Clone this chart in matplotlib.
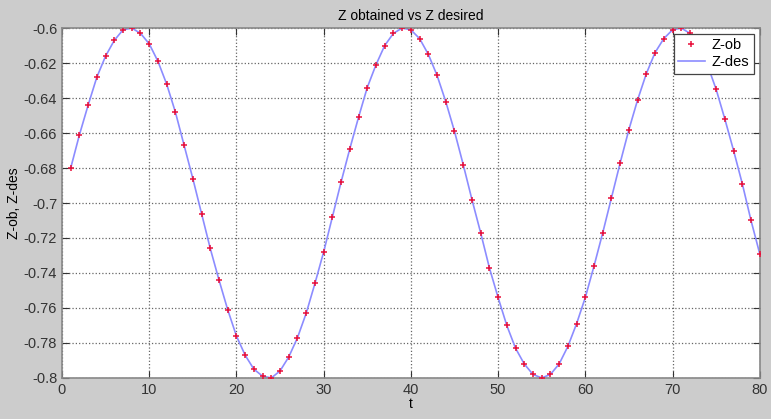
import numpy as np
import matplotlib
matplotlib.use('Agg')
import matplotlib.pyplot as plt
from matplotlib.ticker import FormatStrFormatter

t = list(range(1, 81))

# values, one per integer t
z_ob = [-0.680, -0.661, -0.644, -0.628, -0.616, -0.607, -0.601, -0.600, -0.603, -0.609,
        -0.619, -0.632, -0.648, -0.667, -0.686, -0.706, -0.726, -0.744, -0.761, -0.776,
        -0.787, -0.795, -0.799, -0.800, -0.796, -0.788, -0.777, -0.763, -0.746, -0.728,
        -0.708, -0.688, -0.669, -0.651, -0.634, -0.621, -0.610, -0.603, -0.600, -0.601,
        -0.606, -0.615, -0.627, -0.642, -0.659, -0.678, -0.698, -0.717, -0.737, -0.754,
        -0.770, -0.783, -0.792, -0.798, -0.800, -0.798, -0.792, -0.782, -0.769, -0.754,
        -0.736, -0.717, -0.697, -0.677, -0.658, -0.641, -0.626, -0.614, -0.606, -0.601,
        -0.600, -0.603, -0.610, -0.621, -0.635, -0.652, -0.670, -0.689, -0.710, -0.729]
z_des = list(z_ob)

xticks = [0, 10, 20, 30, 40, 50, 60, 70, 80]
yticks = [-0.8, -0.78, -0.76, -0.74, -0.72, -0.7, -0.68, -0.66, -0.64, -0.62, -0.6]

plt.rcParams['font.family'] = ['Liberation Sans', 'DejaVu Sans']

fig = plt.figure(figsize=(7.71, 4.19), dpi=100, facecolor='#cccccc')
ax = fig.add_axes([0.0804, 0.098, 0.905, 0.835])

ax.plot(t, z_ob, linestyle='none', marker='+', color='#e8103a', markersize=5,
        markeredgewidth=1.1, label='Z-ob', zorder=3)
ax.plot(t, z_des, color='#8c8cff', linewidth=1.2, label='Z-des', zorder=2)

ax.set_xlim(0, 80)
ax.set_ylim(-0.8, -0.6)
ax.set_xticks(xticks)
ax.set_yticks(yticks)
ax.yaxis.set_major_formatter(FormatStrFormatter('%g'))
ax.grid(True, linestyle=':', color='#666666', linewidth=0.9)
ax.tick_params(direction='in', top=True, right=True, labelsize=10.5,
               colors='#333333', length=5)
for s in ax.spines.values():
    s.set_color('#888888')
    s.set_linewidth(1.2)

ax.set_title('Z obtained vs Z desired', fontsize=10, pad=6)
ax.set_xlabel('t', fontsize=10, labelpad=0)
ax.set_ylabel('Z-ob, Z-des', fontsize=10, labelpad=2)

leg = ax.legend(loc='upper right', fontsize=10.5, fancybox=False, framealpha=1,
                edgecolor='#444444', borderpad=0.3, handlelength=1.8,
                handletextpad=0.5, labelspacing=0.2, borderaxespad=0.4)
leg.get_frame().set_linewidth(0.9)

fig.savefig('out.png', dpi=100, facecolor=fig.get_facecolor())
